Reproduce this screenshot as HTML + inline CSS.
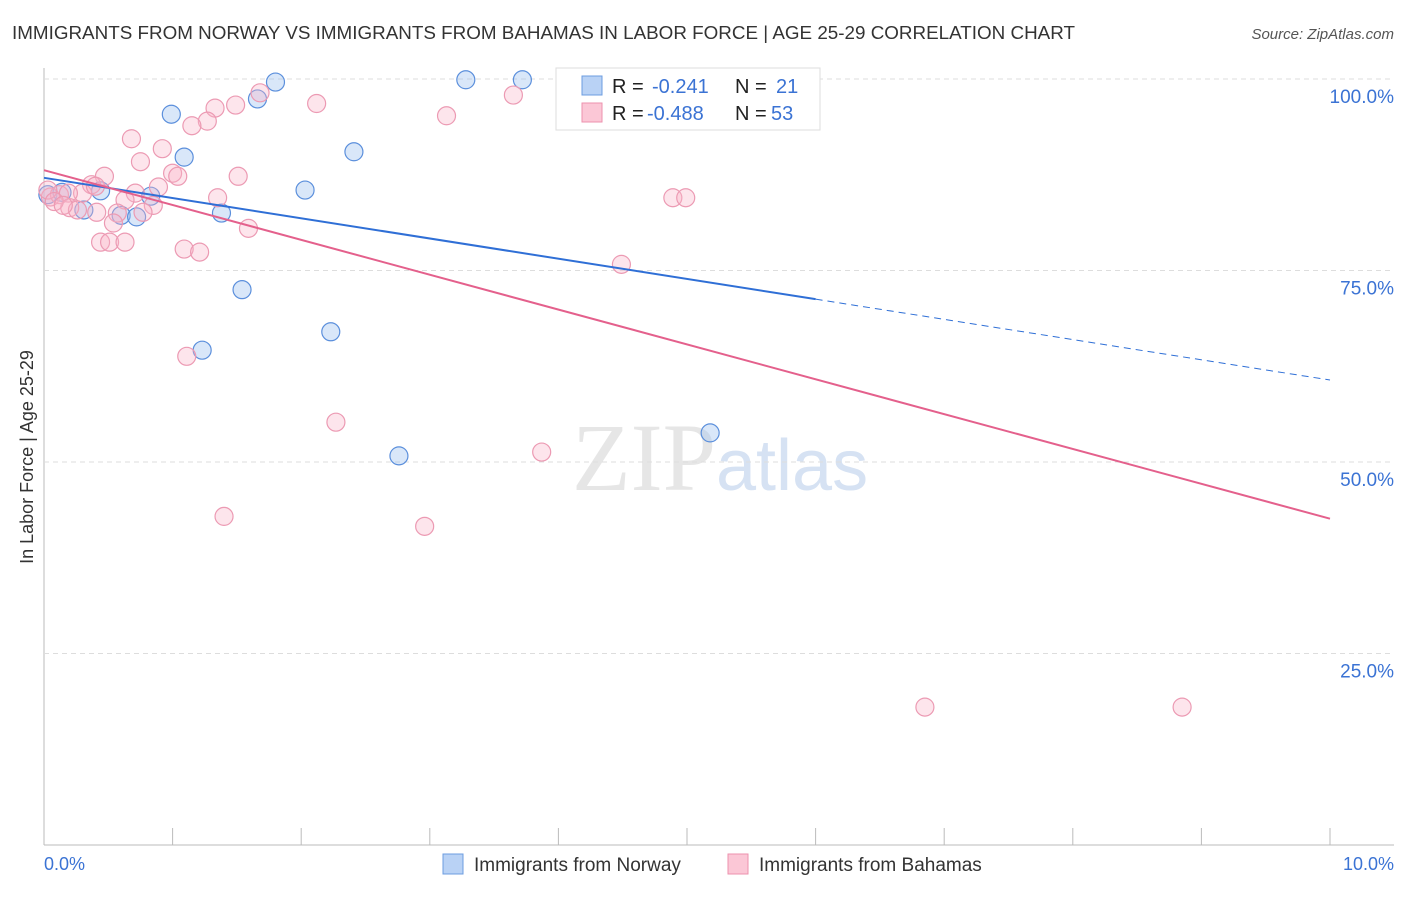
<!DOCTYPE html>
<html><head><meta charset="utf-8"><style>
body{margin:0;background:#fff;font-family:"Liberation Sans",sans-serif}
</style></head><body>
<svg id="c" width="1406" height="892" xmlns="http://www.w3.org/2000/svg">
<text x="12" y="39" font-size="18" fill="#333" textLength="1063" lengthAdjust="spacingAndGlyphs">IMMIGRANTS FROM NORWAY VS IMMIGRANTS FROM BAHAMAS IN LABOR FORCE | AGE 25-29 CORRELATION CHART</text>
<text x="1394" y="39" font-size="15" fill="#555" text-anchor="end" font-style="italic">Source: ZipAtlas.com</text>
<text x="716" y="490" font-size="96" fill="#e6e6e6" text-anchor="end" font-family="Liberation Serif,serif">ZIP</text>
<text x="716" y="490" font-size="72" fill="#d6e2f3">atlas</text>
<g id="grid"></g><g id="pts"></g><g id="lines"></g>
<text x="33" y="457" font-size="18" fill="#333" text-anchor="middle" transform="rotate(-90 33 457)">In Labor Force | Age 25-29</text>
<text x="44" y="870" font-size="18" fill="#3b73d4">0.0%</text>
<text x="1394" y="870" font-size="18" fill="#3b73d4" text-anchor="end">10.0%</text>
<g font-size="20">
<rect x="556" y="68" width="264" height="62" fill="#fff" stroke="#ddd"/>
<rect x="582" y="76" width="20" height="19" fill="#b9d2f5" stroke="#6c9ce0"/>
<rect x="582" y="103" width="20" height="19" fill="#fbc7d6" stroke="#ec92ae"/>
<text x="612" y="93" fill="#222">R =</text>
<text x="652" y="93" fill="#3b73d4">-0.241</text>
<text x="735" y="93" fill="#222">N =</text>
<text x="776" y="93" fill="#3b73d4">21</text>
<text x="612" y="120" fill="#222">R =</text>
<text x="647" y="120" fill="#3b73d4">-0.488</text>
<text x="735" y="120" fill="#222">N =</text>
<text x="771" y="120" fill="#3b73d4">53</text>
</g>
<g>
<rect x="443" y="854" width="20" height="20" fill="#b9d2f5" stroke="#6c9ce0"/>
<text x="474" y="871" font-size="19" fill="#333">Immigrants from Norway</text>
<rect x="728" y="854" width="20" height="20" fill="#fbc7d6" stroke="#ec92ae"/>
<text x="759" y="871" font-size="19" fill="#333">Immigrants from Bahamas</text>
</g>
</svg>
<script>
const yTicks=[25,50,75,100];
const xTicks=[0,1,2,3,4,5,6,7,8,9,10];
const norwayX=[1.80,3.28,3.72,0.99,1.66,1.09,2.41,2.03,0.44,0.83,0.31,0.60,0.72,1.38,0.03,0.14,1.54,2.23,1.23,2.76,5.18];
const norwayY=[99.6,99.9,99.9,95.4,97.4,89.8,90.5,85.5,85.4,84.7,82.9,82.2,82.0,82.5,84.9,85.2,72.5,67.0,64.6,50.8,53.8];
const bahamasX=[1.68,2.12,1.49,1.33,1.27,1.15,0.68,0.92,0.75,1.0,1.04,1.51,0.47,0.37,0.89,0.71,1.35,0.30,0.05,0.12,0.19,0.63,0.85,0.2,0.26,0.41,0.57,0.77,0.54,1.59,0.44,0.51,0.63,1.09,1.21,1.11,2.27,3.87,1.40,2.96,3.13,3.65,5.20,4.35,4.49,4.89,4.99,6.85,8.85,0.03,0.4,0.08,0.15];
const bahamasY=[98.2,96.8,96.6,96.2,94.5,93.9,92.2,90.9,89.2,87.7,87.3,87.3,87.3,86.2,85.9,85.1,84.5,85.1,84.6,84.9,85.1,84.2,83.5,83.2,82.9,82.6,82.5,82.6,81.2,80.5,78.7,78.7,78.7,77.8,77.4,63.8,55.2,51.3,42.9,41.6,95.2,97.9,99.9,97.7,75.8,84.5,84.5,18.0,18.0,85.5,86.0,84.0,83.5];
const norwayTrend=[87.1,60.7];
const bahamasTrend=[88.1,42.6];
const X=v=>44+v*128.6, Y=v=>845-v*7.66;
const NS='http://www.w3.org/2000/svg';
function mk(t,a,p){const e=document.createElementNS(NS,t);for(const k in a)e.setAttribute(k,a[k]);p.appendChild(e);return e;}
const g=document.getElementById('grid');
mk('line',{x1:44,y1:68,x2:44,y2:845,stroke:'#bbb'},g);
mk('line',{x1:44,y1:845,x2:1394,y2:845,stroke:'#bbb'},g);
yTicks.forEach(t=>{const l=mk('line',{x1:44,y1:Y(t),x2:1394,y2:Y(t),stroke:'#ddd','stroke-dasharray':'5,4'},g);


const tx=mk('text',{x:1394,y:Y(t)+24,'font-size':19,fill:'#3b73d4','text-anchor':'end'},g);tx.textContent=t.toFixed(1)+'%';

});
xTicks.forEach(t=>{const l=mk('line',{x1:X(t),y1:828,x2:X(t),y2:845,stroke:'#bbb'},g);

});
const p=document.getElementById('pts');
norwayX.forEach((x,i)=>{const c=mk('circle',{cx:X(x),cy:Y(norwayY[i]),r:9,fill:'rgba(160,195,240,0.4)',stroke:'#5b8fdc','stroke-width':1.2},p);

});
bahamasX.forEach((x,i)=>{const c=mk('circle',{cx:X(x),cy:Y(bahamasY[i]),r:9,fill:'rgba(248,180,200,0.35)',stroke:'#ec9ab3','stroke-width':1.2},p);

});
const L=document.getElementById('lines');
const ny=x=>norwayTrend[0]+(norwayTrend[1]-norwayTrend[0])*x/10;
let a=mk('line',{x1:X(0),y1:Y(ny(0)),x2:X(6),y2:Y(ny(6)),stroke:'#2f6fd6','stroke-width':2},L);


a=mk('line',{x1:X(6),y1:Y(ny(6)),x2:X(10),y2:Y(ny(10)),stroke:'#2f6fd6','stroke-width':1,'stroke-dasharray':'7,5'},L);


a=mk('line',{x1:X(0),y1:Y(bahamasTrend[0]),x2:X(10),y2:Y(bahamasTrend[1]),stroke:'#e4608c','stroke-width':2},L);


</script>
</body></html>
